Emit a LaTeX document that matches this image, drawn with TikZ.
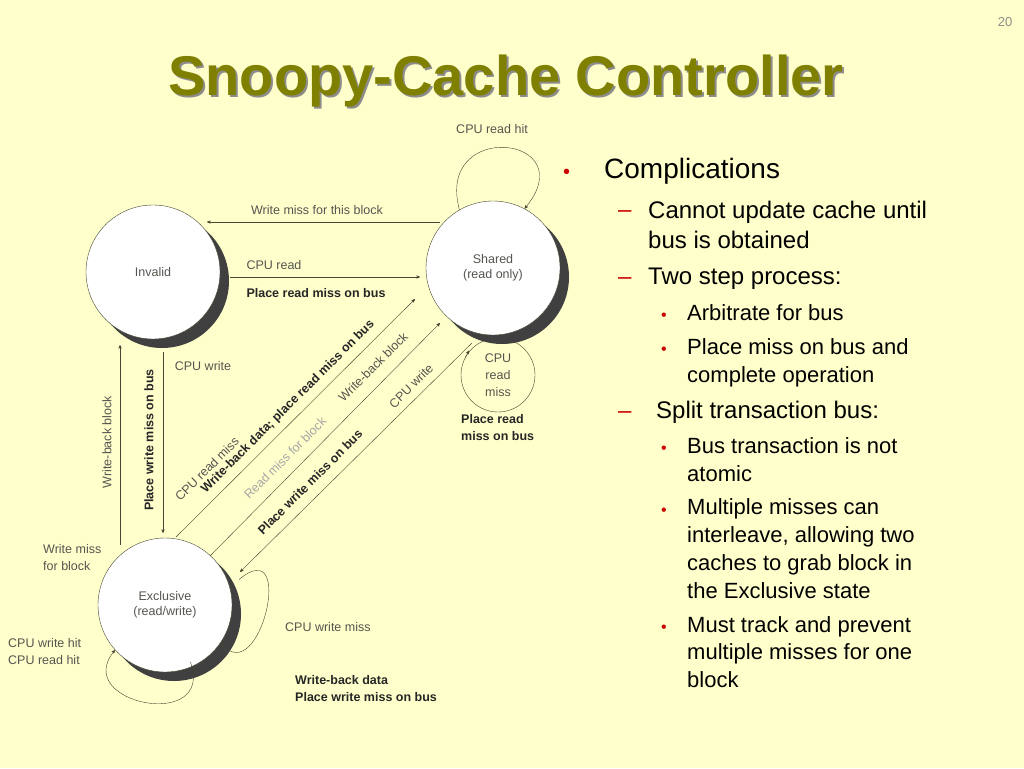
\documentclass[tikz,border=0pt]{standalone}
\usepackage{fontspec}
\setmainfont{Liberation Sans}
\usepackage{tikz}
\usetikzlibrary{arrows, shadows, calc}
\definecolor{slidebg}{RGB}{255,255,204}
\definecolor{olivetitle}{RGB}{128,128,0}
\definecolor{linecol}{RGB}{70,70,50}
\definecolor{labgray}{RGB}{85,85,80}
\definecolor{bulred}{RGB}{204,0,0}
\begin{document}
\begin{tikzpicture}[x=1pt, y=-1pt,
	state/.style={circle, draw=linecol, fill=white, minimum size=134pt, inner sep=0pt,
		align=center, font=\fontsize{12.5}{15}\selectfont, text=labgray,
		drop shadow={shadow xshift=9pt, shadow yshift=-9pt, fill=black!75, opacity=1}},
	lab/.style={font=\fontsize{12.5}{17}\selectfont, text=labgray, inner sep=1pt},
	blab/.style={font=\fontsize{12.5}{17}\selectfont\bfseries, text=black!85, inner sep=1pt},
	tr/.style={draw=linecol, ->, >=stealth'},
	bul/.style={anchor=base west, inner sep=0pt, align=left}]
	\fill[slidebg] (0,0) rectangle (1024,768);
	\node[text=black!45, font=\fontsize{13}{15}\selectfont\rmfamily] (pgno) at (1005,22) {20};
	\node[text=black!45, font=\fontsize{56}{60}\selectfont\bfseries] at (508,83) {Snoopy-Cache Controller};
	\node[text=olivetitle, font=\fontsize{56}{60}\selectfont\bfseries] (title) at (506,81) {Snoopy-Cache Controller};

	% the little loop circle under the shared state
	\node[circle, draw=linecol, minimum size=74pt, inner sep=0pt, align=center, lab] (rmiss) at (498,375) {CPU\\read\\miss};

	\node[state] (inv) at (153,272) {Invalid};
	\node[state] (sh) at (493,268) {Shared\\(read only)};
	\node[state] (ex) at (165,605) {Exclusive\\(read/write)};

	% end points of the straight transitions
	\coordinate (a1) at (440,222); \coordinate (a2) at (207,222);
	\coordinate (b1) at (230,277); \coordinate (b2) at (420,277);
	\coordinate (c1) at (163,352); \coordinate (c2) at (163,533);
	\coordinate (d1) at (120,545); \coordinate (d2) at (120,345);
	\coordinate (e1) at (176,537); \coordinate (e2) at (415,299);
	\coordinate (f1) at (210,556); \coordinate (f2) at (440,323);
	\coordinate (g1) at (472,343); \coordinate (g2) at (240,572);

	\draw[tr] (a1) -- (a2);
	\draw[tr] (b1) -- (b2);
	\draw[tr] (c1) -- (c2);
	\draw[tr] (d1) -- (d2);
	\draw[tr] (e1) -- (e2);
	\draw[tr] (f1) -- (f2);
	\draw[tr] (g1) -- (g2);

	% loops
	\draw[tr] (sh.120) .. controls +(-105:95) and +(-50:95) .. (sh.62);
	\draw[tr] (rmiss.152) -- ++(4,-7);
	\draw[tr] ($(ex.285)+(8,-8)$) .. controls +(70:75) and +(130:70) .. (ex.222);
	\draw[tr] ($(ex.15)+(9,-8)$) .. controls +(-40:75) and +(50:60) .. ($(ex.-45)+(9,-9)$);

	% labels
	\node[lab] (l1) at (317,210) {Write miss for this block};
	\node[lab] (l2) at (274,265) {CPU read};
	\node[blab] (l3) at (316,293) {Place read miss on bus};
	\node[lab] (l4) at (492,129) {CPU read hit};
	\node[blab, anchor=west, align=left] (l5) at (460,428) {Place read\\miss on bus};
	\node[lab] (l6) at (203,366) {CPU write};
	\node[blab, rotate=90] (l7) at (149,440) {Place write miss on bus};
	\node[lab, rotate=90] (l8) at (107,442) {Write-back block};
	\node[lab, anchor=west, align=left] (l9) at (42,558) {Write miss\\for block};
	\node[lab, anchor=west, align=left] (l10) at (7,652) {CPU write hit\\CPU read hit};
	\node[lab, anchor=west] (l11) at (284,627) {CPU write miss};
	\node[blab, anchor=west, align=left] (l12) at (294,689) {Write-back data\\Place write miss on bus};
	\node[blab, rotate=45] (l13) at (288,407) {Write-back data; place read miss on bus};
	\node[lab, rotate=45] (l14) at (207,469) {CPU read miss};
	\node[lab, rotate=45, text=black!35] (l15) at (285,458) {Read miss for block};
	\node[lab, rotate=45] (l16) at (373,367) {Write-back block};
	\node[lab, rotate=45] (l17) at (411,386) {CPU write};
	\node[blab, rotate=45] (l18) at (310,482) {Place write miss on bus};

	% bullet text (base = last line)
	\node[bul, text=bulred, font=\fontsize{20}{24}\selectfont] at (563,178) {•};
	\node[bul, font=\fontsize{28}{32}\selectfont] (b1t) at (604,178) {Complications};
	\foreach \y in {217,284,418} \node[bul, text=bulred, font=\fontsize{24}{30}\selectfont] at (618,\y) {–};
	\node[bul, font=\fontsize{24}{30}\selectfont] (b2t) at (648,248) {Cannot update cache until\\bus is obtained};
	\node[bul, font=\fontsize{24}{30}\selectfont] (b3t) at (648,284) {Two step process:};
	\node[bul, font=\fontsize{24}{30}\selectfont] (b4t) at (656,418) {Split transaction bus:};
	\foreach \y in {320,354,453,515,632} \node[bul, text=bulred, font=\fontsize{16}{20}\selectfont] at (661,\y) {•};
	\node[bul, font=\fontsize{22}{28}\selectfont] (c1t) at (687,320) {Arbitrate for bus};
	\node[bul, font=\fontsize{22}{28}\selectfont] (c2t) at (687,382) {Place miss on bus and\\complete operation};
	\node[bul, font=\fontsize{22}{28}\selectfont] (c3t) at (687,481) {Bus transaction is not\\atomic};
	\node[bul, font=\fontsize{22}{27.7}\selectfont] (c4t) at (687,598) {Multiple misses can\\interleave, allowing two\\caches to grab block in\\the Exclusive state};
	\node[bul, font=\fontsize{22}{27.5}\selectfont] (c5t) at (687,687) {Must track and prevent\\multiple misses for one\\block};
\end{tikzpicture}
\end{document}
